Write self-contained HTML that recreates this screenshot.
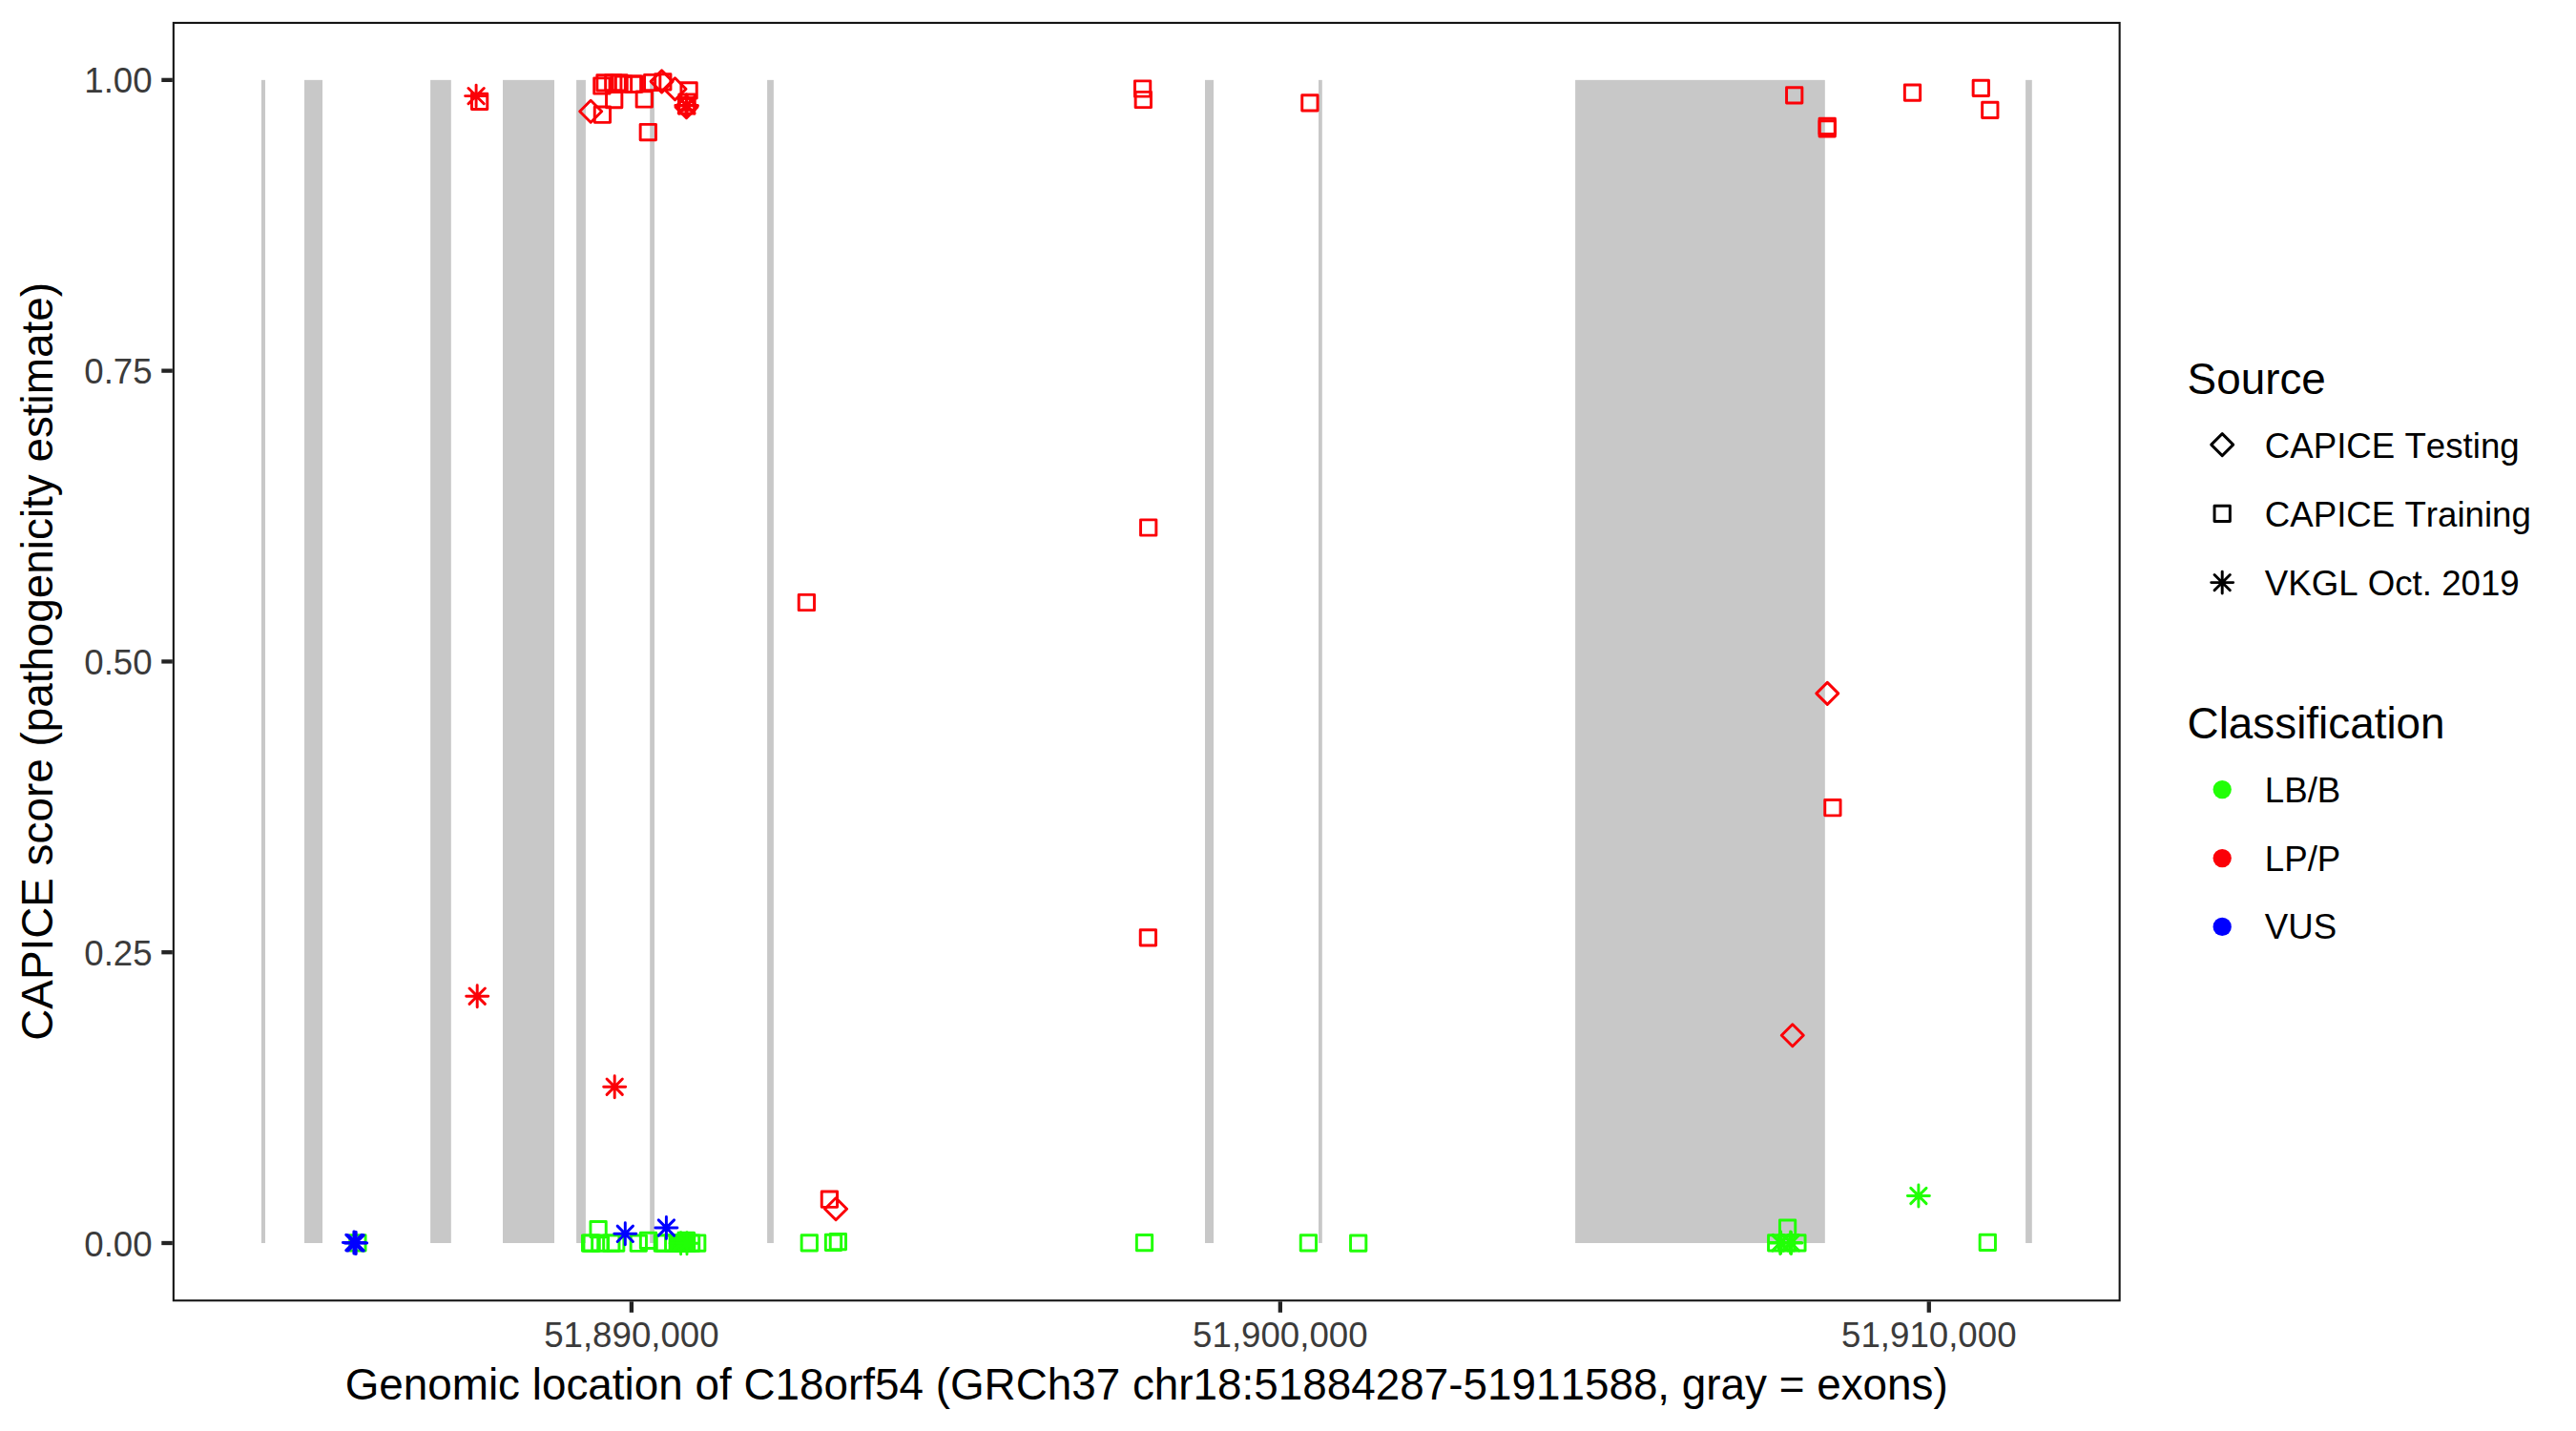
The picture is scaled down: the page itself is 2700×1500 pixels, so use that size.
<!DOCTYPE html>
<html><head><meta charset="utf-8"><title>CAPICE score plot</title>
<style>
html,body{margin:0;padding:0;background:#fff;}
svg{display:block;}
text{font-family:"Liberation Sans",sans-serif;font-kerning:none;font-variant-ligatures:none;}
.ax{font-size:36.67px;fill:#3b3b3b;}
.tt{font-size:45.83px;fill:#000;}
.lg{font-size:36.67px;fill:#000;}
</style></head><body>
<svg width="2700" height="1500" viewBox="0 0 2700 1500">
<rect width="2700" height="1500" fill="#fff"/>

<g fill="#c8c8c8">
<rect x="273.9" y="83.85" width="4.10" height="1219.15"/>
<rect x="319.0" y="83.85" width="19.00" height="1219.15"/>
<rect x="451.1" y="83.85" width="21.70" height="1219.15"/>
<rect x="527.0" y="83.85" width="54.00" height="1219.15"/>
<rect x="604.1" y="83.85" width="9.80" height="1219.15"/>
<rect x="681.2" y="83.85" width="4.80" height="1219.15"/>
<rect x="804.1" y="83.85" width="6.80" height="1219.15"/>
<rect x="1263.0" y="83.85" width="9.00" height="1219.15"/>
<rect x="1382.0" y="83.85" width="3.80" height="1219.15"/>
<rect x="1651.1" y="83.85" width="261.70" height="1219.15"/>
<rect x="2123.1" y="83.85" width="6.70" height="1219.15"/>
</g>
<g fill="none" stroke-width="2.95" stroke-linejoin="round" stroke-linecap="round">
<rect x="610.45" y="1294.85" width="16.30" height="16.30" stroke="#21FF06"/>
<rect x="611.95" y="1294.85" width="16.30" height="16.30" stroke="#21FF06"/>
<rect x="620.65" y="1294.85" width="16.30" height="16.30" stroke="#21FF06"/>
<rect x="632.65" y="1294.85" width="16.30" height="16.30" stroke="#21FF06"/>
<rect x="637.55" y="1294.85" width="16.30" height="16.30" stroke="#21FF06"/>
<rect x="618.95" y="1280.45" width="16.30" height="16.30" stroke="#21FF06"/>
<rect x="661.15" y="1295.05" width="16.30" height="16.30" stroke="#21FF06"/>
<rect x="671.35" y="1292.25" width="16.30" height="16.30" stroke="#21FF06"/>
<rect x="686.15" y="1294.85" width="16.30" height="16.30" stroke="#21FF06"/>
<rect x="688.25" y="1294.85" width="16.30" height="16.30" stroke="#21FF06"/>
<rect x="697.55" y="1294.85" width="16.30" height="16.30" stroke="#21FF06"/>
<rect x="716.45" y="1294.85" width="16.30" height="16.30" stroke="#21FF06"/>
<rect x="722.55" y="1294.85" width="16.30" height="16.30" stroke="#21FF06"/>
<rect x="702.15" y="1294.85" width="16.30" height="16.30" stroke="#21FF06"/>
<rect x="704.45" y="1294.85" width="16.30" height="16.30" stroke="#21FF06"/>
<rect x="706.75" y="1294.85" width="16.30" height="16.30" stroke="#21FF06"/>
<rect x="709.05" y="1294.85" width="16.30" height="16.30" stroke="#21FF06"/>
<rect x="711.25" y="1294.85" width="16.30" height="16.30" stroke="#21FF06"/>
<rect x="710.95" y="1292.25" width="16.30" height="16.30" stroke="#21FF06"/>
<rect x="711.45" y="1292.65" width="16.30" height="16.30" stroke="#21FF06"/>
<path d="M702.10 1303.20H725.10M713.60 1291.70V1314.70M705.45 1295.05L721.75 1311.35M705.45 1311.35L721.75 1295.05" stroke="#21FF06"/>
<path d="M708.50 1303.20H731.50M720.00 1291.70V1314.70M711.85 1295.05L728.15 1311.35M711.85 1311.35L728.15 1295.05" stroke="#21FF06"/>
<rect x="840.15" y="1294.75" width="16.30" height="16.30" stroke="#21FF06"/>
<rect x="865.35" y="1294.15" width="16.30" height="16.30" stroke="#21FF06"/>
<rect x="870.25" y="1293.45" width="16.30" height="16.30" stroke="#21FF06"/>
<rect x="1191.35" y="1294.45" width="16.30" height="16.30" stroke="#21FF06"/>
<rect x="1363.25" y="1294.75" width="16.30" height="16.30" stroke="#21FF06"/>
<rect x="1415.55" y="1294.95" width="16.30" height="16.30" stroke="#21FF06"/>
<rect x="1865.45" y="1279.05" width="16.30" height="16.30" stroke="#21FF06"/>
<rect x="1853.55" y="1294.75" width="16.30" height="16.30" stroke="#21FF06"/>
<rect x="1875.75" y="1294.75" width="16.30" height="16.30" stroke="#21FF06"/>
<rect x="1864.35" y="1294.75" width="16.30" height="16.30" stroke="#21FF06"/>
<path d="M1854.30 1302.90H1877.30M1865.80 1291.40V1314.40M1857.65 1294.75L1873.95 1311.05M1857.65 1311.05L1873.95 1294.75" stroke="#21FF06"/>
<path d="M1855.10 1302.50H1878.10M1866.60 1291.00V1314.00M1858.45 1294.35L1874.75 1310.65M1858.45 1310.65L1874.75 1294.35" stroke="#21FF06"/>
<path d="M1866.00 1302.90H1889.00M1877.50 1291.40V1314.40M1869.35 1294.75L1885.65 1311.05M1869.35 1311.05L1885.65 1294.75" stroke="#21FF06"/>
<path d="M1865.10 1302.40H1888.10M1876.60 1290.90V1313.90M1868.45 1294.25L1884.75 1310.55M1868.45 1310.55L1884.75 1294.25" stroke="#21FF06"/>
<path d="M1999.40 1253.50H2022.40M2010.90 1242.00V1265.00M2002.75 1245.35L2019.05 1261.65M2002.75 1261.65L2019.05 1245.35" stroke="#21FF06"/>
<rect x="2075.15" y="1294.25" width="16.30" height="16.30" stroke="#21FF06"/>
<rect x="366.75" y="1294.75" width="16.30" height="16.30" stroke="#21FF06"/>
<path d="M487.60 100.60H510.60M499.10 89.10V112.10M490.95 92.45L507.25 108.75M490.95 108.75L507.25 92.45" stroke="#FB0007"/>
<rect x="494.45" y="98.25" width="16.30" height="16.30" stroke="#FB0007"/>
<path d="M607.70 116.80L619.20 105.30L630.70 116.80L619.20 128.30Z" stroke="#FB0007"/>
<rect x="623.25" y="112.05" width="16.30" height="16.30" stroke="#FB0007"/>
<rect x="635.55" y="96.45" width="16.30" height="16.30" stroke="#FB0007"/>
<rect x="667.15" y="95.85" width="16.30" height="16.30" stroke="#FB0007"/>
<rect x="671.15" y="130.35" width="16.30" height="16.30" stroke="#FB0007"/>
<rect x="622.75" y="81.85" width="16.30" height="16.30" stroke="#FB0007"/>
<rect x="625.85" y="78.75" width="16.30" height="16.30" stroke="#FB0007"/>
<rect x="634.65" y="78.75" width="16.30" height="16.30" stroke="#FB0007"/>
<rect x="640.85" y="78.75" width="16.30" height="16.30" stroke="#FB0007"/>
<rect x="645.35" y="80.05" width="16.30" height="16.30" stroke="#FB0007"/>
<rect x="655.35" y="80.05" width="16.30" height="16.30" stroke="#FB0007"/>
<rect x="656.85" y="80.05" width="16.30" height="16.30" stroke="#FB0007"/>
<rect x="675.55" y="78.35" width="16.30" height="16.30" stroke="#FB0007"/>
<rect x="686.65" y="77.65" width="16.30" height="16.30" stroke="#FB0007"/>
<path d="M682.10 85.40L693.60 73.90L705.10 85.40L693.60 96.90Z" stroke="#FB0007"/>
<path d="M696.00 93.20L707.50 81.70L719.00 93.20L707.50 104.70Z" stroke="#FB0007"/>
<rect x="713.95" y="86.65" width="16.30" height="16.30" stroke="#FB0007"/>
<rect x="711.85" y="98.95" width="16.30" height="16.30" stroke="#FB0007"/>
<rect x="711.45" y="102.75" width="16.30" height="16.30" stroke="#FB0007"/>
<path d="M708.00 112.10L719.50 100.60L731.00 112.10L719.50 123.60Z" stroke="#FB0007"/>
<path d="M707.85 110.40H730.85M719.35 98.90V121.90M711.20 102.25L727.50 118.55M711.20 118.55L727.50 102.25" stroke="#FB0007"/>
<path d="M708.40 110.80H731.40M719.90 99.30V122.30M711.75 102.65L728.05 118.95M711.75 118.95L728.05 102.65" stroke="#FB0007"/>
<rect x="1189.45" y="84.85" width="16.30" height="16.30" stroke="#FB0007"/>
<rect x="1190.15" y="96.35" width="16.30" height="16.30" stroke="#FB0007"/>
<rect x="1364.75" y="99.65" width="16.30" height="16.30" stroke="#FB0007"/>
<rect x="837.25" y="623.35" width="16.30" height="16.30" stroke="#FB0007"/>
<rect x="1195.55" y="544.85" width="16.30" height="16.30" stroke="#FB0007"/>
<rect x="1195.25" y="974.65" width="16.30" height="16.30" stroke="#FB0007"/>
<path d="M488.70 1044.20H511.70M500.20 1032.70V1055.70M492.05 1036.05L508.35 1052.35M492.05 1052.35L508.35 1036.05" stroke="#FB0007"/>
<path d="M632.70 1139.20H655.70M644.20 1127.70V1150.70M636.05 1131.05L652.35 1147.35M636.05 1147.35L652.35 1131.05" stroke="#FB0007"/>
<rect x="861.25" y="1249.05" width="16.30" height="16.30" stroke="#FB0007"/>
<path d="M864.60 1267.30L876.10 1255.80L887.60 1267.30L876.10 1278.80Z" stroke="#FB0007"/>
<rect x="1872.55" y="91.75" width="16.30" height="16.30" stroke="#FB0007"/>
<rect x="1907.05" y="124.15" width="16.30" height="16.30" stroke="#FB0007"/>
<rect x="1907.05" y="126.65" width="16.30" height="16.30" stroke="#FB0007"/>
<rect x="1996.35" y="88.95" width="16.30" height="16.30" stroke="#FB0007"/>
<rect x="2068.15" y="84.15" width="16.30" height="16.30" stroke="#FB0007"/>
<rect x="2077.65" y="107.25" width="16.30" height="16.30" stroke="#FB0007"/>
<path d="M1903.80 726.90L1915.30 715.40L1926.80 726.90L1915.30 738.40Z" stroke="#FB0007"/>
<rect x="1912.75" y="838.55" width="16.30" height="16.30" stroke="#FB0007"/>
<path d="M1867.30 1085.30L1878.80 1073.80L1890.30 1085.30L1878.80 1096.80Z" stroke="#FB0007"/>
<path d="M359.40 1302.50H382.40M370.90 1291.00V1314.00M362.75 1294.35L379.05 1310.65M362.75 1310.65L379.05 1294.35" stroke="#0000FF"/>
<path d="M361.70 1302.90H384.70M373.20 1291.40V1314.40M365.05 1294.75L381.35 1311.05M365.05 1311.05L381.35 1294.75" stroke="#0000FF"/>
<path d="M360.50 1302.70H383.50M372.00 1291.20V1314.20M363.85 1294.55L380.15 1310.85M363.85 1310.85L380.15 1294.55" stroke="#0000FF"/>
<path d="M643.80 1293.30H666.80M655.30 1281.80V1304.80M647.15 1285.15L663.45 1301.45M647.15 1301.45L663.45 1285.15" stroke="#0000FF"/>
<path d="M686.90 1287.00H709.90M698.40 1275.50V1298.50M690.25 1278.85L706.55 1295.15M690.25 1295.15L706.55 1278.85" stroke="#0000FF"/>
</g>
<rect x="181.85000000000002" y="23.95" width="2039.8" height="1339.3" fill="none" stroke="#141414" stroke-width="2.1"/>
<g stroke="#242424" stroke-width="4.3">
<line x1="169.30" x2="180.8" y1="1303.00" y2="1303.00"/>
<line x1="169.30" x2="180.8" y1="998.21" y2="998.21"/>
<line x1="169.30" x2="180.8" y1="693.43" y2="693.43"/>
<line x1="169.30" x2="180.8" y1="388.64" y2="388.64"/>
<line x1="169.30" x2="180.8" y1="83.85" y2="83.85"/>
<line x1="661.9" x2="661.9" y1="1364.3" y2="1375.80"/>
<line x1="1341.85" x2="1341.85" y1="1364.3" y2="1375.80"/>
<line x1="2021.8" x2="2021.8" y1="1364.3" y2="1375.80"/>
</g>
<text class="ax" x="159.6" y="1316.60" text-anchor="end">0.00</text>
<text class="ax" x="159.6" y="1011.81" text-anchor="end">0.25</text>
<text class="ax" x="159.6" y="707.03" text-anchor="end">0.50</text>
<text class="ax" x="159.6" y="402.24" text-anchor="end">0.75</text>
<text class="ax" x="159.6" y="97.45" text-anchor="end">1.00</text>
<text class="ax" x="661.9" y="1412" text-anchor="middle">51,890,000</text>
<text class="ax" x="1341.85" y="1412" text-anchor="middle">51,900,000</text>
<text class="ax" x="2021.8" y="1412" text-anchor="middle">51,910,000</text>
<text class="tt" x="1201.7" y="1467" text-anchor="middle">Genomic location of C18orf54 (GRCh37 chr18:51884287-51911588, gray = exons)</text>
<text class="tt" transform="translate(55.0 693.4) rotate(-90)" text-anchor="middle">CAPICE score (pathogenicity estimate)</text>
<text class="tt" x="2292.6" y="413">Source</text>
<text class="tt" x="2292.6" y="774">Classification</text>
<g fill="none" stroke-width="2.95" stroke-linejoin="round" stroke-linecap="round">
<path d="M2317.70 466.10L2329.20 454.60L2340.70 466.10L2329.20 477.60Z" stroke="#000"/>
<rect x="2321.05" y="530.25" width="16.30" height="16.30" stroke="#000"/>
<path d="M2317.70 610.60H2340.70M2329.20 599.10V622.10M2321.05 602.45L2337.35 618.75M2321.05 618.75L2337.35 602.45" stroke="#000"/>
</g>
<circle cx="2329.2" cy="827.6" r="9.65" fill="#21FF06"/>
<circle cx="2329.2" cy="899.6" r="9.65" fill="#FB0007"/>
<circle cx="2329.2" cy="971.4" r="9.65" fill="#0000FF"/>
<text class="lg" x="2373.8" y="480">CAPICE Testing</text>
<text class="lg" x="2373.8" y="552">CAPICE Training</text>
<text class="lg" x="2373.8" y="624">VKGL Oct. 2019</text>
<text class="lg" x="2373.8" y="841">LB/B</text>
<text class="lg" x="2373.8" y="913">LP/P</text>
<text class="lg" x="2373.8" y="984">VUS</text>
</svg></body></html>
